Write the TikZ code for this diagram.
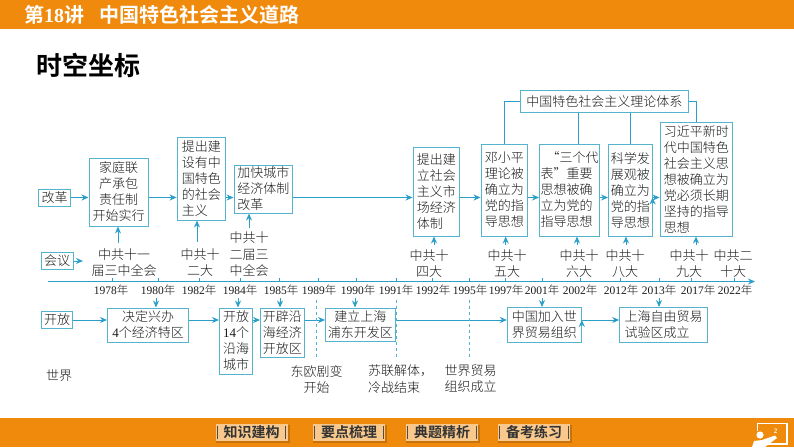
\documentclass[tikz,border=0pt]{standalone}
\usepackage{fontspec}
\setmainfont{Noto Sans CJK SC Light}[BoldFont={Noto Sans CJK SC Bold}]
\newfontfamily\numfont{Liberation Serif}
\usetikzlibrary{arrows.meta,positioning}
\definecolor{barorange}{HTML}{F08A0C}
\definecolor{boxcyan}{HTML}{55B3CC}
\definecolor{linecyan}{HTML}{2A9FC9}
\definecolor{btnfill}{HTML}{F8C88C}
\definecolor{btnshade}{HTML}{C8720A}
\newcommand{\yr}[1]{{\numfont #1}年}
\tikzset{
  box/.style={draw=boxcyan,line width=1pt,inner sep=0pt,font=\fontsize{13}{16}\selectfont,text=black!90},
  flow/.style={draw=linecyan,line width=1pt,-{Stealth[length=7pt,width=6pt]}},
  plain/.style={draw=linecyan,line width=1pt},
  lab/.style={inner sep=0pt,align=center,font=\fontsize{13}{16.5}\selectfont,text=black!90},
  year/.style={inner sep=0pt,font=\fontsize{11.5}{12}\selectfont,text=black!90},
  btn/.style={fill=btnfill,minimum width=72pt,minimum height=17pt,inner sep=0pt,font=\bfseries\fontsize{14}{14}\selectfont,text=black!80},
}
\begin{document}
\begin{tikzpicture}[x=1pt,y=-1pt]
\useasboundingbox (0,0) rectangle (794,447);
% bars
\fill[barorange] (0,0) rectangle (794,29);
\fill[barorange] (0,418) rectangle (794,447);
\node[inner sep=0pt,anchor=west,text=white,font=\bfseries\fontsize{20}{20}\selectfont] (head) at (24,15) {第{\numfont 18}讲\hspace{15pt}中国特色社会主义道路};
\node[inner sep=0pt,anchor=west,font=\bfseries\fontsize{26}{26}\selectfont] (shikong) at (36,65) {时空坐标};
% top row
\node[box,minimum width=32pt,minimum height=17pt] (gaige) at (54.7,197.5) {改革};
\node[box,minimum width=59pt,minimum height=68pt,align=center] (jiating) at (118.5,192) {家庭联\\产承包\\责任制\\开始实行};
\node[box,minimum width=48.5pt,minimum height=83pt,align=left] (jianshe) at (201.3,178.5) {提出建\\设有中\\国特色\\的社会\\主义};
\node[box,minimum width=58.5pt,minimum height=48pt,align=left] (chengshi) at (263.3,189) {加快城市\\经济体制\\改革};
\node[box,minimum width=46.5pt,minimum height=89pt,align=left] (shichang) at (436.3,191.5) {提出建\\立社会\\主义市\\场经济\\体制};
\node[box,minimum width=46.5pt,minimum height=92pt,align=left] (deng) at (504.3,190) {邓小平\\理论被\\确立为\\党的指\\导思想};
\node[box,minimum width=60pt,minimum height=92pt,align=left] (sange) at (569.5,190) {\hspace{6pt}“三个代\\表”重要\\思想被确\\立为党的\\指导思想};
\node[box,minimum width=43.5pt,minimum height=92pt,align=left] (kexue) at (630.3,190) {科学发\\展观被\\确立为\\党的指\\导思想};
\node[box,minimum width=72.5pt,minimum height=114pt,align=left] (xi) at (696.3,179) {习近平新时\\代中国特色\\社会主义思\\想被确立为\\党必须长期\\坚持的指导\\思想};
\node[box,minimum width=167.5pt,minimum height=22.5pt] (lilun) at (604.3,101.3) {中国特色社会主义理论体系};
% theory links
\coordinate (lilunL) at (504.5,101.3);
\coordinate (lilunR) at (696,101.3);
\draw[plain] (lilun.west) -- (lilunL) -- (deng.north -| lilunL);
\draw[plain] (lilun.east) -- (lilunR) -- (xi.north -| lilunR);
\draw[plain] (lilun.south -| 578,0) -- (sange.north -| 578,0);
\draw[plain] (lilun.south -| kexue.north) -- (kexue.north);
% reform row
\path[flow] (gaige.east) edge (jiating.west |- gaige.east)
  (jiating.east |- gaige.east) edge (jianshe.west |- gaige.east)
  (jianshe.east |- gaige.east) edge (chengshi.west |- gaige.east)
  (chengshi.east |- gaige.east) edge (shichang.west |- gaige.east)
  (shichang.east |- gaige.east) edge (deng.west |- gaige.east)
  (deng.east |- gaige.east) edge (sange.west |- gaige.east)
  (sange.east |- gaige.east) edge (kexue.west |- gaige.east)
  (kexue.east |- gaige.east) edge (xi.west |- gaige.east);
% meetings
\node[box,minimum width=32pt,minimum height=17.5pt] (huiyi) at (57,261) {会议};
\coordinate (huiyiEnd) at (83,261);
\draw[flow] (huiyi.east) -- (huiyiEnd);
\node[lab] (m1978) at (124,262.5) {中共十一\\届三中全会};
\node[lab] (m1982) at (200,262.5) {中共十\\二大};
\node[lab] (m1984) at (249,254.5) {中共十\\二届三\\中全会};
\node[lab] (m1992) at (429,263.5) {中共十\\四大};
\node[lab] (m1997) at (507,263.5) {中共十\\五大};
\node[lab] (m2002) at (579,263.5) {中共十\\六大};
\node[lab] (m2012) at (625,263.5) {中共十\\八大};
\node[lab] (m2017) at (689,263.5) {中共十\\九大};
\node[lab] (m2022) at (733,263.5) {中共二\\十大};
\foreach \px/\py/\target in {118/243/jiating,197/242/jianshe,249/228/chengshi,434/245/shichang,505.7/245/deng,577/245/sange,626/245/kexue,696/245/xi}{
  \coordinate (up\target) at (\px,\py);
  \draw[flow] (up\target) -- (up\target |- \target.south);
}
% time axis
\coordinate (axisL) at (48,281.5);
\coordinate (axisR) at (755,281.5);
\draw[flow] (axisL) -- (axisR);
\foreach \x in {112,158.5,199,240,279,318,356,396,432,469,505.7,542,580,620.7,659.7,691.7,734}
  \draw[plain,line width=.6pt] (\x,281.5) -- (\x,277.5);
\foreach \x/\y in {111/1978,158/1980,199/1982,240/1984,281/1985,319/1989,358/1990,396/1991,433/1992,470/1995,506/1997,542/2001,580/2002,621/2012,659/2013,698/2017,735/2022}
  \node[year] (y\y) at (\x,290.5) {\yr{\y}};
% open row
\node[box,minimum width=31pt,minimum height=16.5pt] (kaifang) at (57,320) {开放};
\node[box,minimum width=81pt,minimum height=34pt,align=center] (tequ) at (148,325) {决定兴办\\{\numfont 4}个经济特区};
\node[box,minimum width=33pt,minimum height=66pt,align=center] (yanhai) at (236,341) {开放\\{\numfont 14}个\\沿海\\城市};
\node[box,minimum width=43.5pt,minimum height=49pt,align=center] (kaipi) at (282.3,332.5) {开辟沿\\海经济\\开放区};
\node[box,minimum width=69.5pt,minimum height=33pt,align=center] (pudong) at (360.3,324.5) {建立上海\\浦东开发区};
\node[box,minimum width=74pt,minimum height=34.5pt,align=left] (wto) at (544.3,324.8) {中国加入世\\界贸易组织};
\node[box,minimum width=88pt,minimum height=34.5pt,align=left] (ziyou) at (663.7,324.8) {上海自由贸易\\试验区成立};
\path[flow] (kaifang.east) edge (tequ.west |- kaifang.east)
  (tequ.east |- kaifang.east) edge (yanhai.west |- kaifang.east)
  (yanhai.east |- kaifang.east) edge (kaipi.west |- kaifang.east)
  (kaipi.east |- kaifang.east) edge (pudong.west |- kaifang.east)
  (pudong.east |- kaifang.east) edge (wto.west |- kaifang.east)
  (wto.east |- kaifang.east) edge (ziyou.west |- kaifang.east);
\foreach \px/\target in {156/tequ,238/yanhai,280/kaipi,355/pudong,542/wto,659/ziyou}{
  \coordinate (dn\target) at (\px,298);
  \draw[flow] (dn\target) -- (dn\target |- \target.north);
}
% world row
\node[lab] (shijie) at (59,376) {世界};
\node[lab] (dongou) at (316.5,379.5) {东欧剧变\\开始};
\node[lab,align=left] (sulian) at (400.5,379) {苏联解体，\\冷战结束};
\node[lab] (wtoset) at (470.7,378.5) {世界贸易\\组织成立};
\foreach \x/\y in {316.7/1989,396/1991,469/1995}{
  \coordinate (dash\y) at (\x,300);
  \draw[plain,draw=boxcyan,dash pattern=on 3pt off 3pt] (dash\y) -- ++(0,60);
}
% footer
\foreach \bx/\bname/\btext in {251.5/bzs/知识建构,349/byd/要点梳理,442/bdt/典题精析,534/bbk/备考练习}{
  \fill[btnshade] (\bx-36,425) rectangle (\bx+38,442.5);
  \node[btn] (\bname) at (\bx,432.5) {\btext};
  \draw[black!70,line width=1pt] ([xshift=2pt,yshift=-2pt]\bname.north west) -- ([xshift=2pt,yshift=2pt]\bname.south west);
  \draw[black!70,line width=1pt] ([xshift=-2pt,yshift=-2pt]\bname.north east) -- ([xshift=-2pt,yshift=2pt]\bname.south east);
}
% teacher icon
\draw[white,line width=1.4pt] (762,423.5) -- (787,423.5) -- (787,444) -- (768,444);
\draw[white,line width=1.4pt] (757.5,431) -- (757.5,423.5) -- (762,423.5);
\node[inner sep=0pt,text=white,font=\numfont\bfseries\fontsize{7}{7}\selectfont] (boardnum) at (775.7,431) {2};
\fill[white] (760,435) circle (3.6);
\fill[white] (752,447) -- (754,441) -- (762,440) -- (775,435.5) -- (777,438) -- (765,447) -- cycle;
\end{tikzpicture}
\end{document}
